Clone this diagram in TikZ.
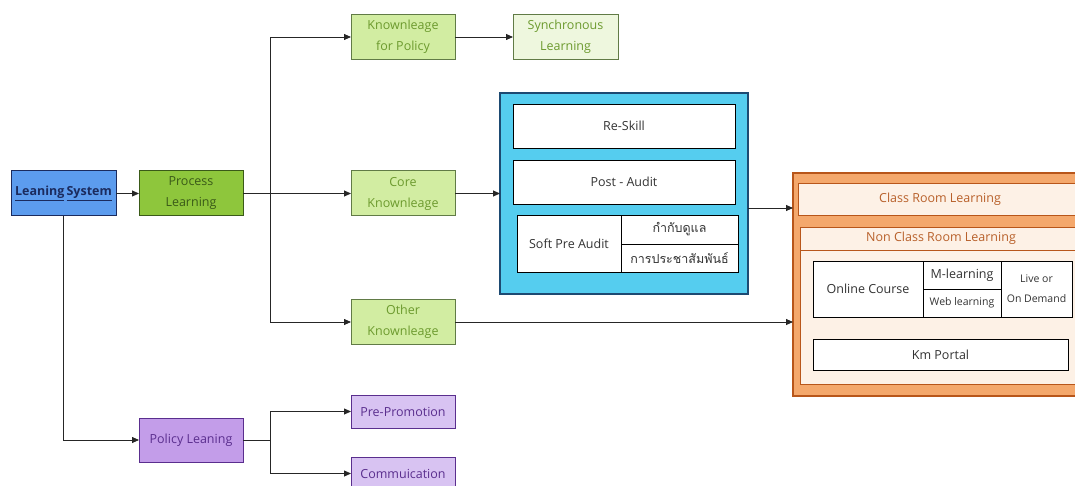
\documentclass[tikz,border=0pt]{standalone}
\usepackage{fontspec}
\setmainfont{Open Sans}
\newfontfamily\thaifont[Script=Thai]{Loma}
\usepackage{tikz}
\usetikzlibrary{
    arrows.meta,
    positioning,
    calc
}

\definecolor{sysblue}{HTML}{5C9CEE}
\definecolor{navy}{HTML}{1B2B5E}
\definecolor{procgreen}{HTML}{8EC63C}
\definecolor{darkgreen}{HTML}{3A5A18}
\definecolor{lightgreen}{HTML}{D2EDA2}
\definecolor{palegreen}{HTML}{EEF7DE}
\definecolor{txtgreen}{HTML}{6C9A2E}
\definecolor{polpurple}{HTML}{C39DE9}
\definecolor{lightpurple}{HTML}{D8C3F2}
\definecolor{txtpurple}{HTML}{5A2E8E}
\definecolor{cyanbox}{HTML}{55CDEF}
\definecolor{cyanedge}{HTML}{1D4A72}
\definecolor{orangebox}{HTML}{F4A86C}
\definecolor{orangeedge}{HTML}{B8561A}
\definecolor{cream}{HTML}{FDF1E6}
\definecolor{txtorange}{HTML}{B8602A}
\definecolor{txtgrey}{HTML}{333333}

\begin{document}
\begin{tikzpicture}[
    x=1pt, y=1pt,
    every node/.style={inner sep=0pt, outer sep=0pt, align=center, font=\fontsize{12.5}{21}\selectfont},
    box/.style={rectangle, draw, line width=1pt, minimum width=104pt, minimum height=45pt},
    sysbox/.style={box, fill=sysblue, draw=navy, text=navy},
    procbox/.style={box, fill=procgreen, draw=darkgreen, text=darkgreen},
    knowbox/.style={box, fill=lightgreen, draw=darkgreen!80, text=txtgreen},
    syncbox/.style={box, fill=palegreen, draw=darkgreen!80, text=txtgreen},
    polbox/.style={box, fill=polpurple, draw=txtpurple, text=txtpurple, minimum height=44pt},
    subbox/.style={box, fill=lightpurple, draw=txtpurple, text=txtpurple, minimum height=33pt},
    cell/.style={rectangle, draw=black, line width=0.9pt, fill=white, text=txtgrey},
    ocell/.style={rectangle, draw=orangeedge, line width=0.9pt, fill=cream, text=txtorange},
    arrow/.style={-{Triangle[length=7pt,width=6pt]}, line width=0.8pt, draw=black!85}
]
\useasboundingbox (0,0) rectangle (1075,-486);

% main chain
\node[sysbox, minimum width=105pt, font=\fontsize{12.5}{21}\selectfont\bfseries] (sys) at (63.5,-193.5) {\underline{Leaning}\,\underline{System}};
\node[procbox, right=23pt of sys] (proc) {Process\\Learning};
\node[knowbox] (kpol) at (403,-37) {Knownleage\\for Policy};
\node[syncbox, right=58pt of kpol, minimum width=105pt] (sync) {Synchronous\\Learning};
\node[knowbox] (core) at (403,-193.5) {Core\\Knownleage};
\node[knowbox] (other) at (403,-322) {Other\\Knownleage};

% policy branch
\node[polbox] (pol) at (191,-440) {Policy Leaning};
\node[subbox] (pre) at (403,-411.5) {Pre-Promotion};
\node[subbox] (comm) at (403,-473.5) {Commuication};

% audit block
\node[rectangle, draw=cyanedge, line width=1.6pt, fill=cyanbox, minimum width=248pt, minimum height=201pt] (blue) at (624,-193.5) {};
\node[cell, minimum width=222pt, minimum height=44pt] (reskill) at (624,-126) {Re-Skill};
\node[cell, minimum width=222pt, minimum height=44pt] (post) at (624,-182) {Post - Audit};
\node[cell, minimum width=104pt, minimum height=57pt] (soft) at (569,-243.5) {Soft Pre Audit};
\node[cell, minimum width=117pt, minimum height=29pt] (thai1) at (679.5,-229.5) {\thaifont กำกับดูแล};
\node[cell, minimum width=117pt, minimum height=28pt] (thai2) at (679.5,-258) {\thaifont การประชาสัมพันธ์};

% learning channels
\node[rectangle, draw=orangeedge, line width=1.2pt, fill=orangebox, minimum width=290pt, minimum height=223pt] (orange) at (938,-284.5) {};
\node[ocell, minimum width=284pt, minimum height=32pt] (classroom) at (940,-199) {Class Room Learning};
\node[ocell, minimum width=282pt, minimum height=157pt] (nonbody) at (941,-305.5) {};
\node[ocell, minimum width=282pt, minimum height=23pt, anchor=north] (nonclass) at (nonbody.north) {Non Class Room Learning};
\node[cell, minimum width=110pt, minimum height=56pt] (online) at (868,-289) {Online Course};
\node[cell, minimum width=78pt, minimum height=28pt] (mlearn) at (962,-275) {M-learning};
\node[cell, minimum width=78pt, minimum height=28pt, font=\fontsize{10.5}{12}\selectfont] (web) at (962,-303) {Web learning};
\node[cell, minimum width=71pt, minimum height=56pt, font=\fontsize{10.5}{20}\selectfont] (live) at (1036.5,-289) {Live or\\On Demand};
\node[cell, minimum width=255pt, minimum height=31pt] (km) at (940.5,-354.5) {Km Portal};

% connectors
\draw[arrow] (sys) -- (proc);
\draw[line width=0.8pt, draw=black!85] (proc.east) -- ++(27,0) coordinate (j1);
\draw[arrow] (j1) |- (kpol);
\draw[arrow] (j1) -- (core);
\draw[arrow] (j1) |- (other);
\draw[arrow] (kpol) -- (sync);
\draw[arrow] (core) -- (core -| blue.west);
\coordinate (b2o) at ([yshift=-14.5pt]blue.east);
\draw[arrow] (b2o) -- (b2o -| orange.west);
\draw[arrow] (other) -- (other -| orange.west);
\draw[arrow] (sys.south) |- (pol);
\draw[line width=0.8pt, draw=black!85] (pol.east) -- ++(27,0) coordinate (j2);
\draw[arrow] (j2) |- (pre);
\draw[arrow] (j2) |- (comm);
\end{tikzpicture}
\end{document}
